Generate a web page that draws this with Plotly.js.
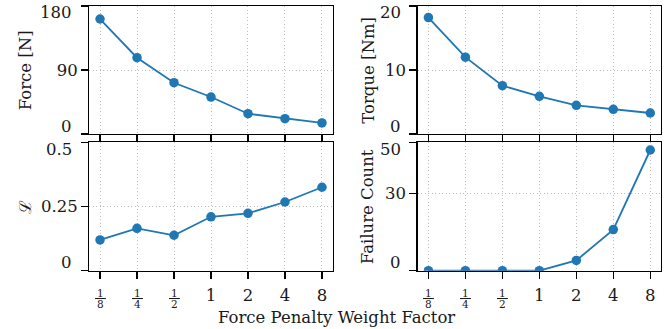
<!DOCTYPE html>
<html>
<head>
<meta charset="utf-8">
<script src="https://cdn.plot.ly/plotly-3.0.1.min.js"></script>
<style>html,body{margin:0;padding:0;background:#fff;}#chart{width:672px;height:329px;}</style>
</head>
<body>
<div id="chart"></div>
<script>
// ---- data ----
const categories = ['1/8', '1/4', '1/2', '1', '2', '4', '8'];
const forceN = [161.7, 107.3, 72.1, 52, 28.5, 21.5, 15.5];
const torqueNm = [18.2, 12.0, 7.55, 5.89, 4.48, 3.86, 3.28];
const lossL = [0.12, 0.165, 0.138, 0.21, 0.2235, 0.2675, 0.325];
const failureCount = [0, 0, 0, 0, 4, 16, 47];

const forceTicks = [0, 90, 180];
const forceTickLabels = ['0', '90', '180'];
const torqueTicks = [0, 10, 20];
const torqueTickLabels = ['0', '10', '20'];
const lossTicks = [0, 0.25, 0.5];
const lossTickLabels = ['0', '0.25', '0.5'];
const failTicks = [0, 30, 50];
const failTickLabels = ['0', '30', '50'];

const yTitles = ['Force [N]', 'Torque [Nm]', 'ℒ', 'Failure Count'];
const xTitle = 'Force Penalty Weight Factor';

// ---- styling ----
const FONT = 'DejaVu Serif, serif';
const FS = 16.5;
const TXT = '#1a1a1a';
const BLUE = '#1f77b4';
const TICKLEN = 7;
const GRID = {showgrid: true, gridcolor: '#bdbdbd', griddash: '1px,2.5px', gridwidth: 1};

const idx = categories.map((_, i) => i);
const panels = [
  {y: forceN, ticks: forceTicks, labels: forceTickLabels, xa: 'x', ya: 'y', bottom: false, titleShift: -64},
  {y: torqueNm, ticks: torqueTicks, labels: torqueTickLabels, xa: 'x2', ya: 'y2', bottom: false, titleShift: -50},
  {y: lossL, ticks: lossTicks, labels: lossTickLabels, xa: 'x3', ya: 'y3', bottom: true, titleShift: -64},
  {y: failureCount, ticks: failTicks, labels: failTickLabels, xa: 'x4', ya: 'y4', bottom: true, titleShift: -50}
];

const W = 672, H = 329;
const xDomains = [[89.3 / W, 332.7 / W], [417.7 / W, 661 / W]];
const yDomains = [[(H - 134) / H, (H - 6) / H], [(H - 270.7) / H, (H - 142.3) / H]];

const data = [];
const layout = {
  width: W, height: H,
  margin: {l: 0, r: 0, t: 0, b: 0},
  paper_bgcolor: '#fff', plot_bgcolor: '#fff',
  showlegend: false,
  font: {family: FONT, size: FS, color: TXT},
  annotations: []
};

const isFrac = s => s.indexOf('/') >= 0;

panels.forEach((p, k) => {
  data.push({
    x: idx, y: p.y, xaxis: p.xa, yaxis: p.ya,
    type: 'scatter', mode: 'lines+markers',
    line: {color: BLUE, width: 1.8},
    marker: {color: BLUE, size: 9.5},
    hoverinfo: 'skip'
  });
  const xkey = 'xaxis' + (k === 0 ? '' : k + 1);
  const ykey = 'yaxis' + (k === 0 ? '' : k + 1);
  const col = k % 2, row = k < 2 ? 0 : 1;
  const span = p.ticks[p.ticks.length - 1] - p.ticks[0];
  layout[xkey] = Object.assign({
    domain: xDomains[col], anchor: p.ya,
    range: [-0.29, categories.length - 1 + 0.29],
    tickmode: 'array', tickvals: idx,
    ticktext: p.bottom ? categories.map(c => isFrac(c) ? '' : c) : categories.map(() => ''),
    showticklabels: p.bottom,
    ticks: 'outside', ticklen: TICKLEN, tickwidth: 1.2, tickcolor: '#000',
    ticklabelstandoff: 2,
    showline: true, linecolor: '#000', linewidth: 1.3, mirror: true,
    zeroline: false, fixedrange: true,
    tickfont: {family: FONT, size: FS, color: TXT}
  }, GRID);
  layout[ykey] = Object.assign({
    domain: yDomains[row], anchor: p.xa,
    range: [p.ticks[0], p.ticks[p.ticks.length - 1]],
    tickmode: 'array', tickvals: p.ticks,
    ticktext: p.labels.map((l, i) => (i === 0 || i === p.labels.length - 1) ? '' : l),
    ticks: 'outside', ticklen: TICKLEN, tickwidth: 1.2, tickcolor: '#000',
    ticklabelstandoff: 0,
    showline: true, linecolor: '#000', linewidth: 1.3, mirror: true,
    zeroline: false, fixedrange: true,
    tickfont: {family: FONT, size: FS, color: TXT}
  }, GRID);
  // end tick labels, shifted inward like the reference
  [0, p.labels.length - 1].forEach(i => {
    layout.annotations.push({
      text: p.labels[i], showarrow: false,
      xref: p.xa + ' domain', x: 0, xanchor: 'right', xshift: -(TICKLEN + 8),
      yref: p.ya + ' domain', y: (p.ticks[i] - p.ticks[0]) / span,
      yanchor: 'middle', yshift: i === 0 ? 8 : -7,
      font: {family: FONT, size: FS, color: TXT}
    });
  });
  // y title
  layout.annotations.push({
    text: yTitles[k], showarrow: false, textangle: -90,
    xref: p.xa + ' domain', x: 0, xanchor: 'center', xshift: p.titleShift,
    yref: p.ya + ' domain', y: 0.5, yanchor: 'middle',
    font: {family: FONT, size: FS, color: TXT}
  });
  // fraction tick labels on bottom panels
  if (p.bottom) {
    categories.forEach((c, i) => {
      if (!isFrac(c)) return;
      const [num, den] = c.split('/');
      layout.annotations.push({
        text: '<u>\u2009' + num + '\u2009</u>', showarrow: false, borderpad: 0, borderwidth: 0,
        xref: p.xa, x: i, xanchor: 'center',
        yref: p.ya + ' domain', y: 0, yanchor: 'middle', yshift: -22,
        font: {family: FONT, size: 10.5, color: TXT}
      });
      layout.annotations.push({
        text: den, showarrow: false, borderpad: 0, borderwidth: 0,
        xref: p.xa, x: i, xanchor: 'center',
        yref: p.ya + ' domain', y: 0, yanchor: 'middle', yshift: -33,
        font: {family: FONT, size: 10.5, color: TXT}
      });
    });
  }
});

layout.annotations.push({
  text: xTitle, showarrow: false, borderpad: 0, borderwidth: 0,
  xref: 'paper', x: 0.5, xanchor: 'center',
  yref: 'paper', y: (H - 317) / H, yanchor: 'middle',
  font: {family: FONT, size: FS, color: TXT}
});

Plotly.newPlot('chart', data, layout, {displayModeBar: false, staticPlot: true});
</script>
</body>
</html>
